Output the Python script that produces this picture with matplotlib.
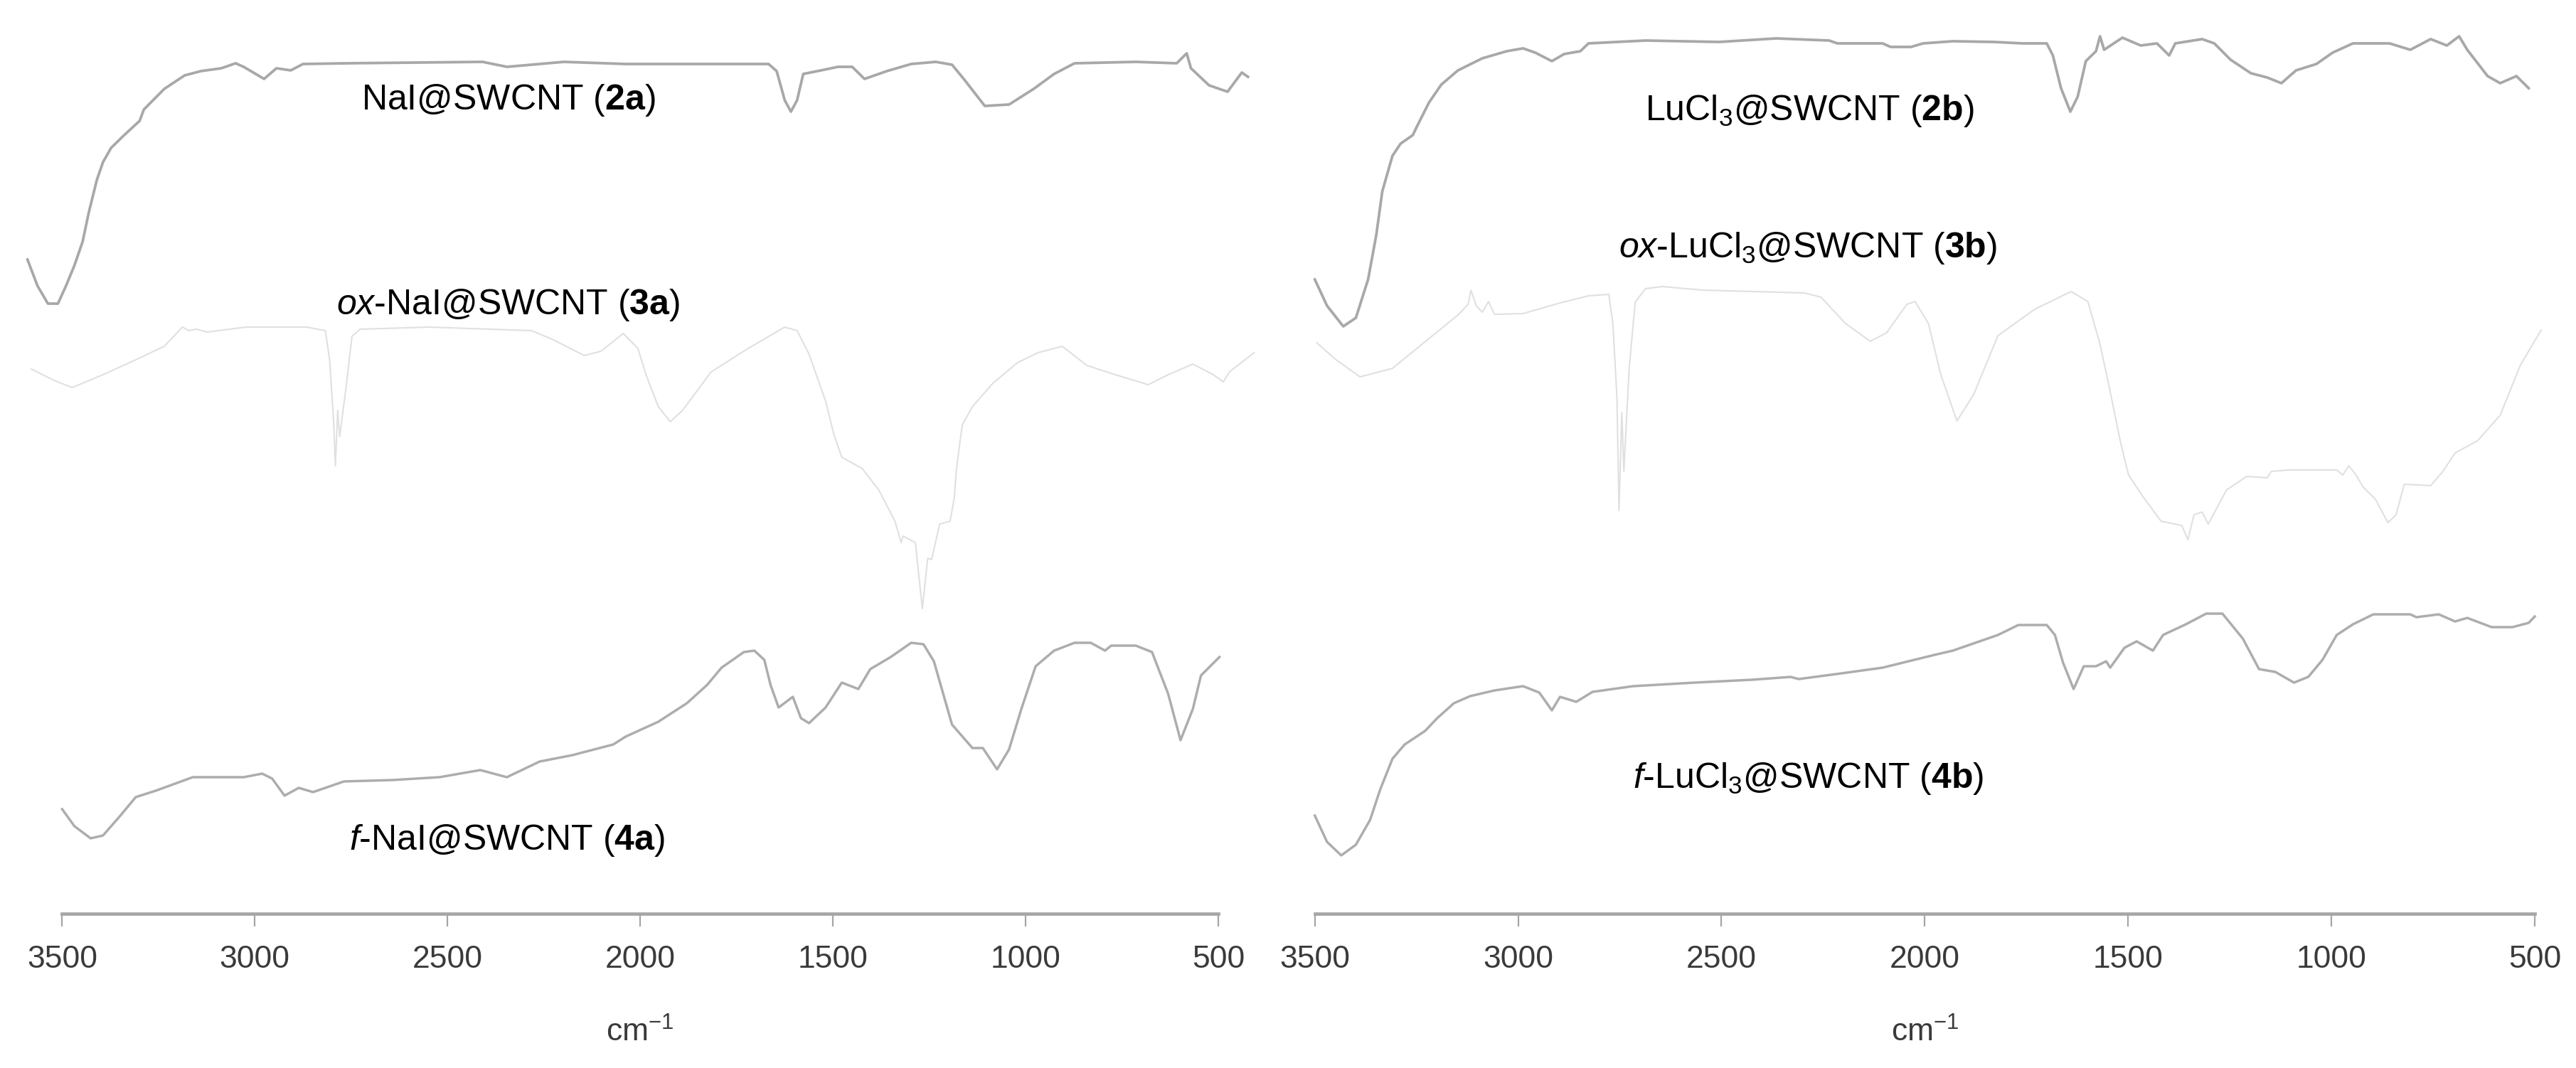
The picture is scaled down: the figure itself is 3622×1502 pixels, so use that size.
import matplotlib
matplotlib.use("Agg")
import matplotlib.pyplot as plt

plt.rcParams['font.family'] = ['Liberation Sans', 'DejaVu Sans']
plt.rcParams['mathtext.fontset'] = 'custom'
plt.rcParams['mathtext.rm'] = 'Liberation Sans'
plt.rcParams['mathtext.it'] = 'Liberation Sans:italic'
plt.rcParams['mathtext.bf'] = 'Liberation Sans:bold'

# ---------------- data (wavenumber cm-1, offset transmittance a.u.) ----------------
wn_2a = [3590, 3564, 3537, 3511, 3490, 3468, 3447, 3431, 3410, 3394, 3373, 3341, 3299, 3288,
         3235, 3182, 3140, 3087, 3050, 3029, 2976, 2944, 2907, 2875, 2759, 2409, 2346, 2198,
         2038, 1667, 1646, 1625, 1609, 1593, 1577, 1540, 1487, 1450, 1418, 1360, 1297, 1233,
         1191, 1159, 1106, 1043, 979, 926, 873, 714, 608, 582, 571, 524, 476, 439, 423]
t_2a = [920, 883, 858, 858, 883, 912, 945, 986, 1032, 1057, 1077, 1094, 1115, 1131,
        1160, 1179, 1185, 1189, 1196, 1191, 1174, 1189, 1186, 1195, 1196, 1198, 1191, 1198,
        1195, 1195, 1185, 1144, 1128, 1144, 1181, 1185, 1191, 1191, 1174, 1185, 1195, 1198,
        1194, 1173, 1136, 1138, 1160, 1181, 1196, 1198, 1196, 1210, 1189, 1165, 1156, 1183, 1177]

wn_3a = [3580, 3521, 3474, 3394, 3309, 3235, 3188, 3172, 3151, 3124, 3023, 2865, 2817, 2806,
         2796, 2791, 2785, 2780, 2764, 2748, 2727, 2547, 2282, 2229, 2145, 2102, 2044, 2006,
         1985, 1953, 1922, 1890, 1816, 1720, 1625, 1593, 1562, 1519, 1498, 1477, 1424, 1381,
         1339, 1323, 1318, 1286, 1268, 1254, 1244, 1223, 1196, 1185, 1180, 1170, 1164, 1138,
         1085, 1021, 968, 905, 841, 767, 682, 630, 566, 513, 487, 471, 407]
t_3a = [766, 750, 740, 758, 779, 798, 825, 820, 822, 818, 825, 825, 820, 779,
        696, 630, 708, 671, 737, 812, 822, 825, 820, 808, 785, 791, 816, 795,
        758, 713, 692, 708, 762, 795, 825, 820, 787, 721, 675, 642, 626, 596,
        552, 522, 531, 522, 429, 500, 498, 548, 552, 585, 622, 665, 688, 713,
        746, 775, 789, 798, 771, 758, 744, 758, 773, 758, 748, 762, 789]

wn_4a = [3500, 3468, 3426, 3394, 3352, 3309, 3257, 3161, 3029, 2981, 2955, 2923, 2886, 2849,
         2769, 2642, 2521, 2415, 2346, 2261, 2176, 2070, 2038, 1953, 1879, 1826, 1789, 1731,
         1704, 1678, 1662, 1641, 1604, 1583, 1562, 1519, 1477, 1434, 1403, 1350, 1297, 1265,
         1238, 1191, 1138, 1111, 1074, 1043, 1011, 974, 926, 873, 831, 794, 778, 714, 672,
         630, 598, 566, 545, 497]
t_4a = [147, 123, 106, 110, 136, 164, 173, 192, 192, 197, 190, 166, 177, 171,
        186, 188, 192, 202, 192, 214, 223, 238, 249, 270, 296, 322, 346, 368,
        370, 357, 322, 290, 305, 275, 268, 290, 325, 316, 344, 361, 381, 379,
        355, 266, 233, 233, 203, 231, 288, 348, 370, 381, 381, 370, 377, 377, 368,
        309, 244, 288, 335, 361]

wn_2b = [3500, 3470, 3430, 3399, 3369, 3349, 3334, 3309, 3289, 3259, 3249, 3219, 3189, 3148,
         3088, 3028, 2988, 2958, 2917, 2887, 2847, 2827, 2687, 2506, 2365, 2235, 2215, 2104,
         2084, 2034, 2004, 1931, 1830, 1760, 1700, 1685, 1665, 1642, 1624, 1604, 1579, 1569,
         1559, 1514, 1469, 1429, 1399, 1384, 1318, 1288, 1248, 1198, 1158, 1123, 1087, 1037,
         997, 947, 857, 806, 756, 716, 686, 666, 616, 585, 545, 515]
t_2b = [892, 855, 826, 838, 892, 954, 1016, 1066, 1083, 1095, 1107, 1141, 1166, 1186,
        1203, 1213, 1217, 1211, 1199, 1209, 1213, 1224, 1228, 1226, 1231, 1228, 1224, 1224,
        1219, 1219, 1224, 1227, 1226, 1224, 1224, 1207, 1161, 1128, 1149, 1199, 1213, 1234,
        1215, 1232, 1221, 1224, 1207, 1224, 1230, 1224, 1201, 1182, 1176, 1168, 1186, 1195,
        1211, 1224, 1224, 1215, 1230, 1221, 1234, 1215, 1178, 1168, 1178, 1161]

wn_3b = [3495, 3450, 3389, 3309, 3219, 3148, 3123, 3116, 3103, 3088, 3073, 3058, 2988, 2897,
         2827, 2777, 2767, 2757, 2752, 2745, 2740, 2727, 2712, 2687, 2646, 2546, 2295, 2255,
         2195, 2134, 2094, 2044, 2024, 1991, 1961, 1921, 1880, 1820, 1730, 1640, 1599, 1569,
         1544, 1519, 1499, 1464, 1419, 1368, 1353, 1338, 1318, 1303, 1258, 1208, 1158, 1148,
         1107, 987, 972, 957, 942, 922, 892, 861, 841, 821, 756, 726, 696, 641, 585, 535, 484]
t_3b = [803, 780, 755, 767, 809, 842, 857, 877, 855, 846, 861, 843, 844, 859,
        869, 871, 830, 726, 567, 705, 622, 767, 860, 879, 882, 877, 873, 867,
        830, 805, 817, 857, 861, 830, 759, 693, 730, 813, 850, 875, 861, 801,
        734, 664, 617, 587, 552, 546, 526, 561, 565, 548, 596, 615, 613, 622,
        624, 624, 617, 630, 619, 600, 583, 550, 561, 604, 602, 622, 648, 665, 701, 772, 821]

wn_4b = [3500, 3470, 3435, 3399, 3364, 3339, 3309, 3279, 3229, 3199, 3158, 3118, 3058, 2988,
         2948, 2917, 2897, 2857, 2817, 2717, 2566, 2426, 2330, 2310, 2205, 2104, 1976, 1931,
         1820, 1770, 1700, 1680, 1660, 1634, 1609, 1579, 1554, 1544, 1509, 1479, 1439, 1414,
         1358, 1308, 1268, 1218, 1178, 1138, 1092, 1057, 1022, 987, 947, 897, 806, 791, 736,
         696, 666, 606, 555, 515, 500]
t_4b = [138, 101, 82, 97, 132, 175, 218, 238, 257, 275, 296, 306, 314, 320,
        311, 286, 305, 298, 312, 320, 325, 329, 333, 330, 338, 346, 364, 370,
        392, 406, 406, 392, 353, 316, 348, 348, 355, 346, 374, 383, 370, 392,
        407, 422, 422, 387, 344, 340, 325, 333, 357, 392, 407, 421, 421, 417, 421,
        411, 416, 403, 403, 409, 418]

ticks = [3500, 3000, 2500, 2000, 1500, 1000, 500]

labels_left = [r"NaI@SWCNT ($\mathbf{2a}$)",
               r"$\mathit{ox}$-NaI@SWCNT ($\mathbf{3a}$)",
               r"$\mathit{f}$-NaI@SWCNT ($\mathbf{4a}$)"]
labels_right = [r"LuCl$_3$@SWCNT ($\mathbf{2b}$)",
                r"$\mathit{ox}$-LuCl$_3$@SWCNT ($\mathbf{3b}$)",
                r"$\mathit{f}$-LuCl$_3$@SWCNT ($\mathbf{4b}$)"]
label_pos_left = [(2342, 1131), (2342, 843), (2346, 90)]
label_pos_right = [(2284, 1116), (2287, 923), (2286, 177)]

# ---------------- figure ----------------
W, H = 3623, 1502
fig = plt.figure(figsize=(W / 100, H / 100), dpi=100)
bottom = (H - 1285) / H
height = 1285 / H
ax1 = fig.add_axes([87.4 / W, bottom, (1713 - 87.4) / W, height])
ax2 = fig.add_axes([1848.7 / W, bottom, (3564 - 1848.7) / W, height])

c_dark = '#a8a8a8'
c_light = '#e0e0e0'
c_mid = '#adadad'
axis_col = '#a6a6a6'


def style(ax):
    ax.set_xlim(3500, 500)
    ax.set_ylim(0, 1285)
    for s in ['top', 'left', 'right']:
        ax.spines[s].set_visible(False)
    ax.spines['bottom'].set_color(axis_col)
    ax.spines['bottom'].set_linewidth(3.4)
    ax.set_yticks([])
    ax.set_xticks(ticks)
    ax.set_xticklabels([str(t) for t in ticks])
    ax.tick_params(axis='x', direction='out', length=13, width=1.6, color=axis_col,
                   labelsize=32, labelcolor='#3a3a3a', pad=19)
    ax.set_xlabel(r"cm$^{-1}$", fontsize=32, color='#3a3a3a', va='baseline')
    ax.xaxis.set_label_coords(0.5, -0.140)
    ax.patch.set_alpha(0)


style(ax1)
style(ax2)

ax1.plot(wn_2a, t_2a, color=c_dark, lw=2.7, clip_on=False)
ax1.plot(wn_3a, t_3a, color=c_light, lw=1.5, clip_on=False)
ax1.plot(wn_4a, t_4a, color=c_mid, lw=2.5, clip_on=False)

ax2.plot(wn_2b, t_2b, color=c_dark, lw=2.7, clip_on=False)
ax2.plot(wn_3b, t_3b, color=c_light, lw=1.5, clip_on=False)
ax2.plot(wn_4b, t_4b, color=c_mid, lw=2.5, clip_on=False)

for lab, (x, y) in zip(labels_left, label_pos_left):
    ax1.text(x, y, lab, fontsize=36, ha='center', va='baseline', color='black')
for lab, (x, y) in zip(labels_right, label_pos_right):
    ax2.text(x, y, lab, fontsize=36, ha='center', va='baseline', color='black')

fig.savefig("out.png", dpi=100, facecolor='white')
